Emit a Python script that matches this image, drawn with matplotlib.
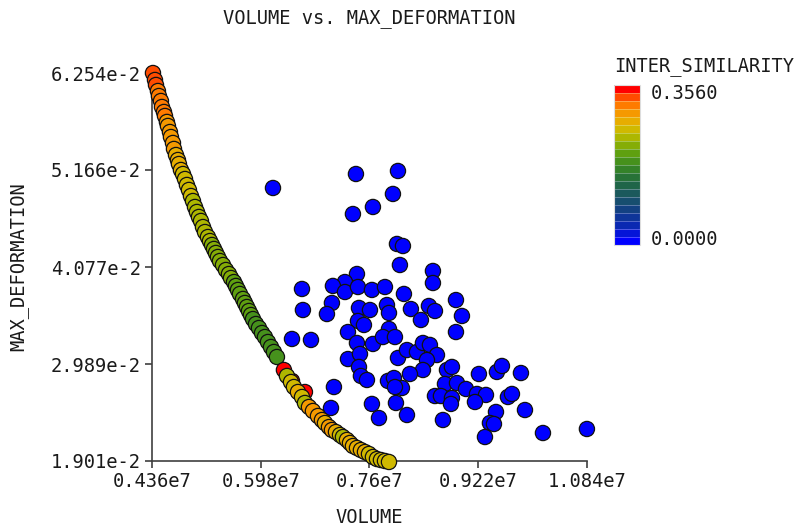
import numpy as np
import matplotlib
matplotlib.use("Agg")
import matplotlib.pyplot as plt
from matplotlib.colors import LinearSegmentedColormap

# -----------------------------
# Data (volume in 1e4 units, deformation in 1e-4 units)
# -----------------------------

# front of solutions (coloured by inter similarity)
front_volume = [437.5, 440.5, 442.0, 444.9, 446.4, 449.4, 450.9, 453.9, 455.4, 458.3,
                459.8, 462.8, 464.3, 467.3, 468.8, 471.8, 474.7, 476.2, 479.2, 482.2,
                485.2, 488.1, 491.1, 494.1, 497.1, 500.1, 503.0, 506.0, 509.0, 512.0,
                515.0, 519.4, 522.4, 525.4, 528.4, 531.3, 534.3, 537.3, 541.8, 546.2,
                550.7, 553.7, 558.2, 561.1, 564.1, 567.1, 571.6, 574.5, 577.5, 580.5,
                583.5, 586.5, 590.9, 595.4, 599.9, 604.3, 608.8, 613.3, 617.7, 622.2,
                663.9, 644.6, 632.6, 637.1, 643.1, 647.5, 653.5, 659.5, 663.9, 669.9,
                675.8, 683.3, 689.2, 693.7, 699.7, 704.1, 710.1, 716.1, 720.5, 726.5,
                731.0, 735.4, 741.4, 747.3, 753.3, 759.3, 765.2, 771.2, 777.1, 783.1,
                789.1]
front_deform = [625.4, 617.6, 612.0, 605.2, 599.6, 594.0, 587.3, 581.7, 577.2, 570.5,
                566.0, 559.2, 553.6, 546.9, 540.2, 533.4, 527.8, 523.3, 516.6, 512.1,
                506.5, 499.8, 494.2, 487.4, 481.8, 475.1, 469.5, 463.9, 459.4, 452.6,
                447.0, 441.4, 436.9, 432.5, 428.0, 423.5, 419.0, 414.5, 410.0, 404.4,
                399.9, 395.4, 390.9, 386.5, 382.0, 377.5, 371.9, 367.4, 362.9, 358.4,
                353.9, 349.4, 343.8, 339.3, 333.7, 329.2, 323.6, 318.0, 312.4, 306.8,
                267.5, 279.9, 292.2, 285.5, 278.7, 273.1, 267.5, 261.9, 255.2, 250.7,
                246.2, 240.6, 236.1, 232.7, 228.2, 224.9, 222.6, 219.3, 217.0, 213.7,
                210.3, 206.9, 204.7, 202.4, 200.2, 198.0, 194.6, 192.3, 191.2, 190.1,
                189.0]
front_sim = [0.330, 0.325, 0.322, 0.318, 0.315, 0.312, 0.310, 0.308, 0.305, 0.302,
             0.300, 0.296, 0.292, 0.289, 0.286, 0.282, 0.278, 0.272, 0.268, 0.263,
             0.258, 0.255, 0.252, 0.250, 0.248, 0.246, 0.244, 0.242, 0.240, 0.238,
             0.236, 0.234, 0.232, 0.230, 0.228, 0.226, 0.224, 0.222, 0.220, 0.218,
             0.216, 0.214, 0.212, 0.210, 0.208, 0.206, 0.204, 0.202, 0.200, 0.198,
             0.196, 0.195, 0.194, 0.193, 0.192, 0.191, 0.190, 0.189, 0.188, 0.190,
             0.345, 0.340, 0.356, 0.248, 0.255, 0.262, 0.268, 0.250, 0.245, 0.290,
             0.292, 0.290, 0.286, 0.282, 0.285, 0.286, 0.278, 0.260, 0.238, 0.270,
             0.272, 0.275, 0.272, 0.270, 0.268, 0.266, 0.265, 0.262, 0.258, 0.256,
             0.255]

# other solutions (similarity 0)
other_volume = [616.3, 739.9, 802.5, 795.0, 765.2, 735.4, 801.0, 809.9, 805.4, 741.4,
                854.6, 854.6, 723.5, 705.6, 659.5, 723.5, 742.9, 763.7, 783.1, 811.4,
                888.9, 660.9, 704.1, 696.7, 744.4, 760.8, 786.1, 789.1, 821.8, 836.7,
                848.6, 857.6, 897.8, 742.9, 751.8, 728.0, 789.1, 888.9, 644.6, 672.9,
                741.4, 765.2, 780.1, 798.0, 728.0, 745.9, 744.4, 747.3, 756.3, 802.5,
                815.9, 830.8, 839.7, 850.1, 860.6, 845.7, 839.7, 820.3, 787.6, 796.5,
                808.4, 798.0, 875.5, 882.9, 872.5, 890.4, 903.8, 857.6, 866.5, 882.9,
                881.4, 923.1, 949.9, 957.4, 985.7, 920.2, 933.6, 917.2, 966.3, 972.3,
                991.7, 948.5, 939.5, 945.5, 932.1, 1018.5, 1084.0, 707.1, 702.7, 763.7,
                774.2, 799.5, 815.9, 869.5]
other_deform = [496.4, 512.1, 515.5, 489.7, 475.1, 467.2, 433.6, 431.3, 410.0, 399.9,
                403.3, 389.8, 390.9, 386.5, 383.1, 379.7, 385.3, 382.0, 385.3, 377.5,
                370.7, 359.5, 367.4, 355.0, 361.8, 359.5, 365.1, 356.2, 360.6, 348.3,
                364.0, 358.4, 352.8, 347.2, 342.7, 334.8, 338.2, 334.8, 327.0, 325.9,
                322.5, 321.4, 329.2, 329.2, 304.5, 310.2, 295.6, 285.5, 281.0, 305.7,
                314.6, 312.4, 322.5, 320.3, 309.0, 303.4, 292.2, 287.7, 279.9, 283.2,
                272.0, 273.1, 292.2, 295.6, 276.5, 277.6, 270.9, 263.0, 263.0, 260.8,
                254.1, 287.7, 290.0, 296.7, 288.8, 265.3, 264.2, 256.3, 261.9, 265.3,
                247.3, 245.1, 232.7, 231.6, 217.0, 221.5, 226.0, 273.1, 249.6, 254.1,
                238.3, 255.2, 241.7, 236.1]

x_ticks = [4.36e6, 5.98e6, 7.60e6, 9.22e6, 10.84e6]
x_labels = ["0.436e7", "0.598e7", "0.76e7", "0.922e7", "1.084e7"]
y_ticks = [0.01901, 0.02989, 0.04077, 0.05166, 0.06254]
y_labels = ["1.901e-2", "2.989e-2", "4.077e-2", "5.166e-2", "6.254e-2"]
sim_max = 0.356

# -----------------------------
# Style
# -----------------------------

plt.rcParams["font.family"] = ["DejaVu Sans Mono"]
txt = "#1a1a1a"
fs = 13.5

anchors = [(0.00, "#0000ff"), (0.10, "#0a28b4"), (0.20, "#123f86"), (0.30, "#1a5662"),
           (0.40, "#226c3c"), (0.50, "#3a8a22"), (0.58, "#5fa010"), (0.66, "#9ab400"),
           (0.72, "#c8bc00"), (0.78, "#e4b000"), (0.84, "#f59a00"), (0.90, "#ff7800"),
           (0.95, "#ff4a00"), (1.00, "#ff0000")]
cmap = LinearSegmentedColormap.from_list("sim", anchors, N=20)

fig = plt.figure(figsize=(8.04, 5.26), dpi=100)
ax = fig.add_axes([0.189, 0.1236, 0.541, 0.7376])

ax.scatter(np.array(other_volume) * 1e4, np.array(other_deform) * 1e-4,
           c=np.zeros(len(other_volume)), cmap=cmap, vmin=0, vmax=sim_max,
           s=120, edgecolors="#111111", linewidths=0.9, clip_on=False, zorder=3)
sc = ax.scatter(np.array(front_volume) * 1e4, np.array(front_deform) * 1e-4,
                c=front_sim, cmap=cmap, vmin=0, vmax=sim_max,
                s=120, edgecolors="#111111", linewidths=0.9, clip_on=False, zorder=3)

ax.set_xlim(x_ticks[0], x_ticks[-1])
ax.set_ylim(y_ticks[0], y_ticks[-1])
ax.set_xticks(x_ticks)
ax.set_xticklabels(x_labels)
ax.set_yticks(y_ticks)
ax.set_yticklabels(y_labels)
ax.tick_params(direction="out", length=5, width=1.2, color="#404040",
               labelsize=fs, labelcolor=txt, pad=3)
for side in ["top", "right"]:
    ax.spines[side].set_visible(False)
for side in ["left", "bottom"]:
    ax.spines[side].set_color("#404040")
    ax.spines[side].set_linewidth(1.2)

ax.set_title("VOLUME vs. MAX_DEFORMATION", fontsize=fs, color=txt, pad=36)
ax.set_xlabel("VOLUME", fontsize=fs, color=txt, labelpad=12)
ax.set_ylabel("MAX_DEFORMATION", fontsize=fs, color=txt, labelpad=16)

# colour legend
cax = fig.add_axes([0.7637, 0.5342, 0.0323, 0.3042])
cb = fig.colorbar(sc, cax=cax, drawedges=True)
cb.set_ticks([])
cb.outline.set_edgecolor("#dddddd")
cb.outline.set_linewidth(0.8)
cb.dividers.set_color("#ffffff")
cb.dividers.set_alpha(0.35)
cb.dividers.set_linewidth(0.6)
fig.text(0.7637, 0.873, "INTER_SIMILARITY", fontsize=fs, color=txt, va="center")
fig.text(0.810, 0.823, f"{sim_max:.4f}", fontsize=fs, color=txt, va="center")
fig.text(0.810, 0.545, f"{0:.4f}", fontsize=fs, color=txt, va="center")

fig.savefig("out.png", dpi=100)
